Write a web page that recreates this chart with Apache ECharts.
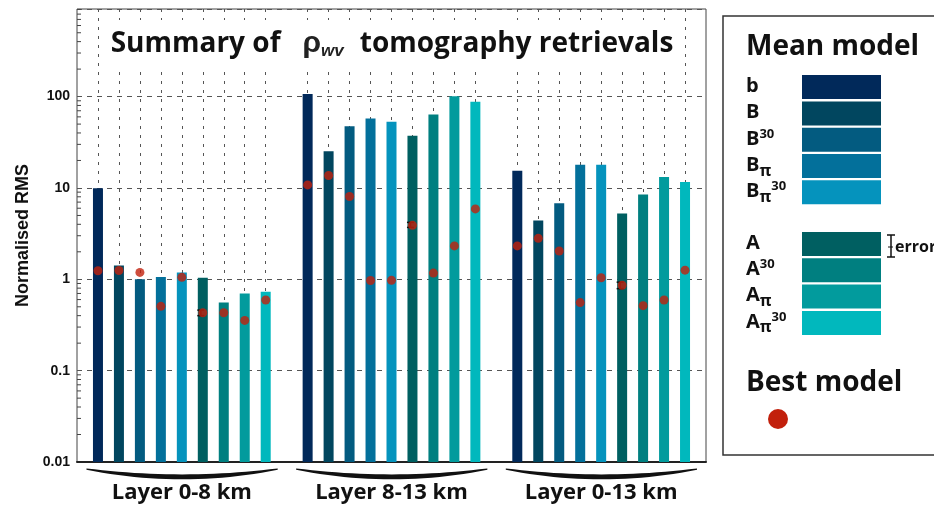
<!DOCTYPE html>
<html>
<head>
<meta charset="utf-8">
<script src="https://cdn.jsdelivr.net/npm/echarts@6/dist/echarts.min.js"></script>
<style>
html, body { margin: 0; padding: 0; background: #fff; }
#chart { width: 934px; height: 509px; }
</style>
</head>
<body>
<div id="chart"></div>
<script>
// models in plotting order, one bar per model in each layer group
var models = ['b', 'B', 'B30', 'Bπ', 'Bπ30', 'A', 'A30', 'Aπ', 'Aπ30'];
var modelColors = ['#01295a', '#01465f', '#035b80', '#03709b', '#0593bd', '#005f61', '#007f80', '#029b9d', '#01b8bd'];
var layers = ['Layer 0-8 km', 'Layer 8-13 km', 'Layer 0-13 km'];

// mean model normalised RMS (bars)
var meanLayer1 = [9.9, 1.42, 1.0, 1.06, 1.19, 1.04, 0.556, 0.70, 0.73];
var meanLayer2 = [107, 25.3, 47.5, 57.7, 53, 37.2, 63.8, 101, 87.7];
var meanLayer3 = [15.4, 4.4, 6.8, 17.9, 17.9, 5.25, 8.48, 13.2, 11.6];

// best model normalised RMS (red dots)
var bestLayer1 = [1.24, 1.25, 1.19, 0.506, 1.05, 0.43, 0.43, 0.355, 0.593];
var bestLayer2 = [10.8, 13.7, 8.06, 0.97, 0.975, 3.9, 1.17, 2.32, 5.9];
var bestLayer3 = [2.32, 2.81, 2.04, 0.556, 1.04, 0.86, 0.515, 0.593, 1.26];

// error range of model A, per layer [low, high]
var errorA = [[0.40, 0.46], [3.7, 4.2], [0.79, 0.93]];

var yTicks = [0.01, 0.1, 1, 10, 100];
var yTickLabels = ['0.01', '0.1', '1', '10', '100'];
var yMin = 0.01, yMax = 910;

var CHART = {
    chart: null,
    slotCount: 31,
    init: function(){
        var _this = this;
        _this.chart = echarts.init(document.getElementById('chart'));
        _this.chart.setOption(_this.build_option());
        _this.chart.setOption({ graphic: _this.build_graphic() });
    },
    slot_of: function(g, k){
        return 1 + g * 10 + k;
    },
    build_option: function(){
        var _this = this;
        var means = [meanLayer1, meanLayer2, meanLayer3];
        var bests = [bestLayer1, bestLayer2, bestLayer3];
        var slots = [], layerAt = {};
        for (var i = 0; i < _this.slotCount; i++) slots.push('s' + i);
        var barData = [], dotData = [], errData = [];
        layers.forEach(function(layer, g){
            layerAt[_this.slot_of(g, 4)] = layer;
            models.forEach(function(m, k){
                var idx = _this.slot_of(g, k);
                barData.push({ value: [idx, means[g][k]], itemStyle: { color: modelColors[k] } });
                dotData.push([idx, bests[g][k]]);
            });
            errData.push([_this.slot_of(g, models.indexOf('A')), errorA[g][0], errorA[g][1]]);
        });

        return {
            animation: false,
            backgroundColor: '#fff',
            title: {
                text: '{b|Summary of}{r|ρ}{s|wv}{b|tomography retrievals}',
                left: 384,
                top: 20,
                textAlign: 'center',
                backgroundColor: '#fff',
                padding: [6, 8],
                textStyle: {
                    lineHeight: 36,
                    rich: {
                        b: { fontFamily: 'Open Sans', fontWeight: 'bold', fontSize: 28, color: '#111' },
                        r: { fontFamily: 'Liberation Sans', fontSize: 30, color: '#222', padding: [0, 0, 0, 22] },
                        s: { fontFamily: 'Liberation Sans', fontStyle: 'italic', fontSize: 17, color: '#222', padding: [14, 16, 0, 0] }
                    }
                }
            },
            grid: {
                left: 77, right: 228, top: 9, bottom: 47,
                show: true, borderColor: '#444', borderWidth: 1
            },
            xAxis: {
                type: 'category',
                data: slots,
                boundaryGap: false,
                axisLine: { lineStyle: { color: '#222', width: 2 } },
                axisTick: { show: false },
                axisLabel: {
                    interval: function(index){ return layerAt[index] !== undefined; },
                    formatter: function(value, index){ return layerAt[index] || ''; },
                    fontFamily: 'Open Sans', fontWeight: 'bold', fontSize: 22, color: '#111',
                    margin: 20
                },
                splitLine: {
                    show: true,
                    interval: function(index){ return index % 10 !== 0; },
                    lineStyle: { color: '#555', type: [3, 6], width: 1 }
                }
            },
            yAxis: {
                type: 'log',
                logBase: 10,
                min: yMin,
                max: yMax,
                startValue: yMin,
                name: 'Normalised RMS',
                nameLocation: 'middle',
                nameGap: 44,
                nameTextStyle: { fontFamily: 'Liberation Sans', fontWeight: 'bold', fontSize: 18, color: '#111' },
                axisLine: { lineStyle: { color: '#333', width: 1.5 } },
                axisTick: { inside: true, length: 6, lineStyle: { color: '#333' } },
                axisLabel: {
                    formatter: function(v){
                        var i = yTicks.indexOf(+(+v).toPrecision(3));
                        return i >= 0 ? yTickLabels[i] : '';
                    },
                    fontFamily: 'Liberation Sans', fontWeight: 'bold', fontSize: 14, color: '#111',
                    margin: 7
                },
                splitLine: { show: true, lineStyle: { color: '#555', type: [5, 5], width: 1 } }
            },
            series: [{
                name: 'Mean model',
                type: 'bar',
                data: barData,
                barWidth: 10,
                z: 2
            }, {
                name: 'error',
                type: 'custom',
                data: errData,
                encode: { x: 0, y: [1, 2] },
                z: 3,
                renderItem: function(params, api){
                    var lo = api.coord([api.value(0), api.value(1)]);
                    var hi = api.coord([api.value(0), api.value(2)]);
                    var cx = lo[0] - 2, hw = 3.5;
                    var st = { stroke: '#111', lineWidth: 1.5 };
                    return {
                        type: 'group',
                        children: [
                            { type: 'line', shape: { x1: cx, y1: lo[1], x2: cx, y2: hi[1] }, style: st },
                            { type: 'line', shape: { x1: cx - hw, y1: lo[1], x2: cx + hw, y2: lo[1] }, style: st },
                            { type: 'line', shape: { x1: cx - hw, y1: hi[1], x2: cx + hw, y2: hi[1] }, style: st }
                        ]
                    };
                }
            }, {
                name: 'Best model',
                type: 'scatter',
                data: dotData,
                symbolSize: 9,
                itemStyle: { color: '#c2200c' },
                z: 4
            }]
        };
    },
    label_rich: function(name){
        return name.replace('π', '{sub|π}').replace('30', '{sup|30}');
    },
    build_graphic: function(){
        var _this = this;
        var els = [];

        // minor log ticks (2..9 in each decade) on the left axis
        var x0 = _this.chart.convertToPixel({ xAxisIndex: 0 }, 0);
        for (var d = -2; d <= 2; d++) {
            for (var n = 2; n <= 9; n++) {
                var v = n * Math.pow(10, d);
                if (v > yMax) continue;
                var py = _this.chart.convertToPixel({ yAxisIndex: 0 }, v);
                els.push({ type: 'line', shape: { x1: x0, y1: py, x2: x0 + 4, y2: py },
                    style: { stroke: '#444', lineWidth: 1 } });
            }
        }

        // brackets under each layer group
        layers.forEach(function(layer, g){
            var xa = _this.chart.convertToPixel({ xAxisIndex: 0 }, _this.slot_of(g, 0)) - 11.5;
            var xb = _this.chart.convertToPixel({ xAxisIndex: 0 }, _this.slot_of(g, 8)) + 12;
            var top = [], bot = [], steps = 24;
            for (var s = 0; s <= steps; s++) {
                var t = s / steps, bow = 4 * t * (1 - t);
                var x = xa + (xb - xa) * t;
                top.push([x, 469 + 6 * bow - 0.6]);
                bot.unshift([x, 469 + 9.5 * bow + 0.8]);
            }
            els.push({ type: 'polygon', shape: { points: top.concat(bot) }, style: { fill: '#111' } });
        });

        // legend box
        els.push({ type: 'rect', shape: { x: 723, y: 16, width: 230, height: 439 },
            style: { fill: '#fff', stroke: '#333', lineWidth: 1.5 } });
        els.push({ type: 'text', x: 746, y: 47, style: { text: 'Mean model', fontFamily: 'Open Sans',
            fontWeight: 'bold', fontSize: 28, fill: '#111', verticalAlign: 'middle' } });

        var swatchTops = [75, 101.5, 127.8, 154, 180.2, 232, 258.3, 284.6, 310.9];
        models.forEach(function(m, k){
            var y0 = swatchTops[k];
            els.push({ type: 'rect', shape: { x: 802, y: y0, width: 79, height: 24 },
                style: { fill: modelColors[k] } });
            els.push({ type: 'text', x: 746, y: y0 + 11, style: {
                text: _this.label_rich(m), fontFamily: 'Open Sans', fontWeight: 'bold', fontSize: 20,
                fill: '#111', verticalAlign: 'middle',
                rich: {
                    sub: { fontFamily: 'Open Sans', fontWeight: 'bold', fontSize: 16, fill: '#111', padding: [12, 0, 0, 0] },
                    sup: { fontFamily: 'Open Sans', fontWeight: 'bold', fontSize: 13, fill: '#111', padding: [0, 0, 10, 0] }
                }
            } });
        });

        // error bar key
        var ex = 891, ey0 = 235, ey1 = 257;
        var est = { stroke: '#111', lineWidth: 1.5 };
        els.push({ type: 'line', shape: { x1: ex, y1: ey0, x2: ex, y2: ey1 }, style: est });
        els.push({ type: 'line', shape: { x1: ex - 4, y1: ey0, x2: ex + 4, y2: ey0 }, style: est });
        els.push({ type: 'line', shape: { x1: ex - 4, y1: ey1, x2: ex + 4, y2: ey1 }, style: est });
        els.push({ type: 'line', shape: { x1: ex - 3, y1: 247, x2: ex + 2, y2: 247 }, style: { stroke: '#111', lineWidth: 1 } });
        els.push({ type: 'text', x: 895, y: 247, style: { text: 'error', fontFamily: 'Open Sans', fontWeight: 'bold',
            fontSize: 16, fill: '#111', verticalAlign: 'middle' } });

        els.push({ type: 'text', x: 746, y: 383, style: { text: 'Best model', fontFamily: 'Open Sans',
            fontWeight: 'bold', fontSize: 28, fill: '#111', verticalAlign: 'middle' } });
        els.push({ type: 'circle', shape: { cx: 778, cy: 419, r: 10 }, style: { fill: '#c2200c' } });
        return els;
    }
};

CHART.init();
</script>
</body>
</html>
